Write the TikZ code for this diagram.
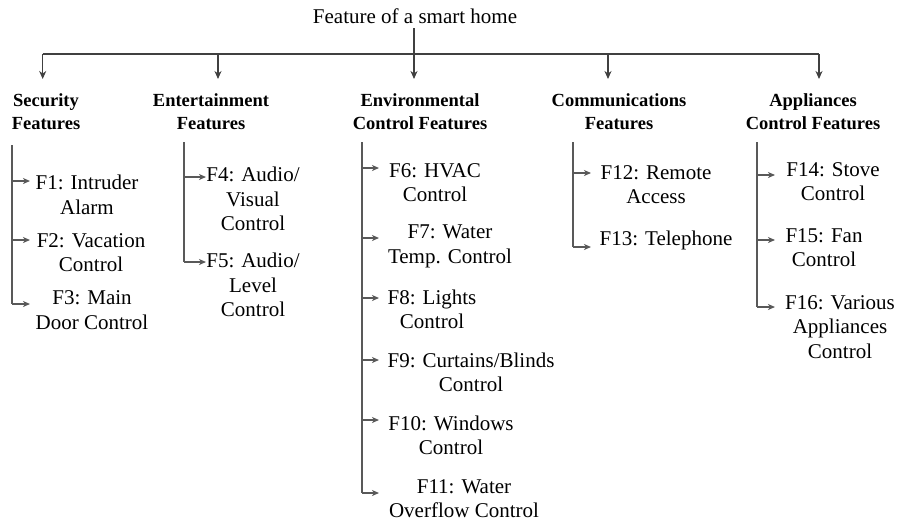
\documentclass[tikz,border=0pt]{standalone}
\usepackage{fontspec}
\setmainfont{Liberation Serif}
\usetikzlibrary{arrows.meta}

\tikzset{
  item/.style={align=center, inner sep=1pt,
    font=\fontsize{21}{24.5}\selectfont},
  head/.style={align=center, inner sep=1pt,
    font=\fontsize{18.5}{23}\bfseries\selectfont},
  trunk/.style={draw=black!75, line width=1.2pt},
  harrow/.style={trunk, -{Stealth[length=8pt,width=7pt,inset=2.5pt]}},
  bracket/.style={draw=black!65, line width=1.2pt},
  leaf/.style={bracket, -{Stealth[length=7pt,width=6pt,inset=2pt]}}
}

\begin{document}
\begin{tikzpicture}[x=1pt,y=-1pt]
\useasboundingbox (0,0) rectangle (899,523);

% root and category headings
\node[item] (root) at (415,16) {Feature of a smart home};

\node[head] (sec) at (46,111.5)  {Security\\Features};
\node[head] (ent) at (211,111.5) {Entertainment\\Features};
\node[head] (env) at (420,111.5) {Environmental\\Control Features};
\node[head] (com) at (619,111.5) {Communications\\Features};
\node[head] (app) at (813,111.5) {Appliances\\Control Features};

% distribution bar and arrow tips above the headings
\coordinate (rootfoot) at (414,28);
\coordinate (barL) at (42.7,54);
\coordinate (barR) at (819,54);
\coordinate (t1) at (42.7,79);
\coordinate (t2) at (218,79);
\coordinate (t3) at (414,79);
\coordinate (t4) at (608,79);
\coordinate (t5) at (819,79);

\draw[trunk] (barL) -- (barR);
\draw[harrow] (rootfoot) -- (t3);
\foreach \t in {t1,t2,t4,t5}
  \draw[harrow] (barL |- barL -| \t) -- (\t);

% leaf features
\node[item] (f1)  at (87,195)    {F1: Intruder\\Alarm};
\node[item] (f2)  at (91,252.5)  {F2: Vacation\\Control};
\node[item] (f3)  at (92,310)    {F3: Main\\Door Control};

\node[item] (f4)  at (253,199)   {F4: Audio/\\Visual\\Control};
\node[item] (f5)  at (253,285)   {F5: Audio/\\Level\\Control};

\node[item] (f6)  at (435,182.5) {F6: HVAC\\Control};
\node[item] (f7)  at (450,246.5) {F7: Water\\Temp. Control};
\node[item] (f8)  at (432,309.5) {F8: Lights\\Control};
\node[item] (f9)  at (471,372.5) {F9: Curtains/Blinds\\Control};
\node[item] (f10) at (451,435.5) {F10: Windows\\Control};
\node[item] (f11) at (464,498.5) {F11: Water\\Overflow Control};

\node[item] (f12) at (656,184.5) {F12: Remote\\Access};
\node[item] (f13) at (666,240)   {F13: Telephone};

\node[item] (f14) at (833,181.5) {F14: Stove\\Control};
\node[item] (f15) at (824,247.5) {F15: Fan\\Control};
\node[item] (f16) at (840,327)   {F16: Various\\Appliances\\Control};

% brackets: vertical spine from top, one arrow per feature
% security
\coordinate (s0) at (12,145);
\coordinate (a1) at (30,181);
\coordinate (a2) at (30,240);
\coordinate (a3) at (30,304);
\draw[bracket] (s0) -- (s0 |- a3);
\foreach \a in {a1,a2,a3} \draw[leaf] (s0 |- \a) -- (\a);

% entertainment
\coordinate (e0) at (184,142);
\coordinate (a4) at (206,177);
\coordinate (a5) at (206,262);
\draw[bracket] (e0) -- (e0 |- a5);
\foreach \a in {a4,a5} \draw[leaf] (e0 |- \a) -- (\a);

% environmental control
\coordinate (v0) at (362,142);
\coordinate (a6)  at (379,168);
\coordinate (a7)  at (379,238);
\coordinate (a8)  at (379,298);
\coordinate (a9)  at (379,360);
\coordinate (a10) at (379,420);
\coordinate (a11) at (379,493);
\draw[bracket] (v0) -- (v0 |- a11);
\foreach \a in {a6,a7,a8,a9,a10,a11} \draw[leaf] (v0 |- \a) -- (\a);

% communications
\coordinate (c0) at (573,142);
\coordinate (a12) at (591,173);
\coordinate (a13) at (591,247);
\draw[bracket] (c0) -- (c0 |- a13);
\foreach \a in {a12,a13} \draw[leaf] (c0 |- \a) -- (\a);

% appliances control
\coordinate (p0) at (757,142);
\coordinate (a14) at (775,175);
\coordinate (a15) at (775,240);
\coordinate (a16) at (775,307);
\draw[bracket] (p0) -- (p0 |- a16);
\foreach \a in {a14,a15,a16} \draw[leaf] (p0 |- \a) -- (\a);

\end{tikzpicture}
\end{document}
